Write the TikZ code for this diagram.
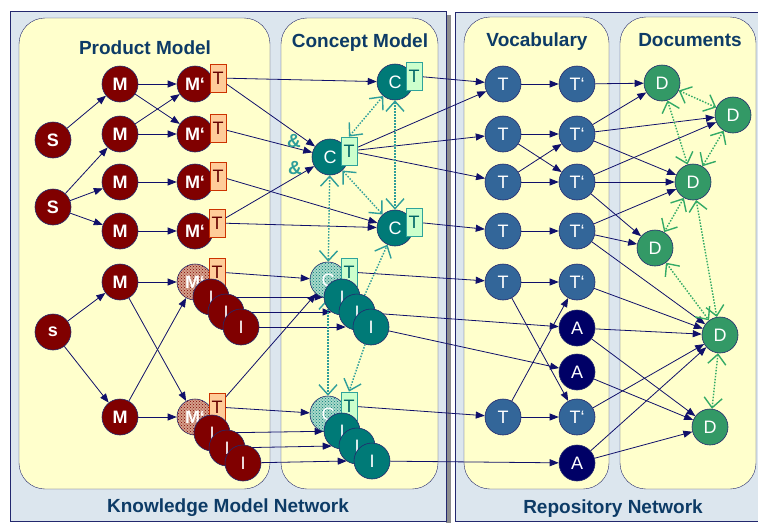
\documentclass[tikz,border=0pt]{standalone}
\usepackage{fontspec}
\setmainfont{Liberation Sans}
\usetikzlibrary{arrows.meta,patterns}

\definecolor{navy}{HTML}{10106A}
\definecolor{rim}{HTML}{23286E}
\definecolor{panel}{HTML}{DCE6EE}
\definecolor{paper}{HTML}{FFFFCC}
\definecolor{headc}{HTML}{0D3B66}
\definecolor{prod}{HTML}{800000}
\definecolor{prodlt}{HTML}{D4A08A}
\definecolor{tprodfill}{HTML}{FFCC99}
\definecolor{tproddraw}{HTML}{CC3300}
\definecolor{tprodtext}{HTML}{660000}
\definecolor{conc}{HTML}{007A77}
\definecolor{conclt}{HTML}{A9D9C9}
\definecolor{tconcfill}{HTML}{CCFFCC}
\definecolor{tconcdraw}{HTML}{2FA39B}
\definecolor{tconctext}{HTML}{006666}
\definecolor{voc}{HTML}{336699}
\definecolor{acc}{HTML}{000066}
\definecolor{doc}{HTML}{339966}
\definecolor{conctie}{HTML}{2E9E9A}
\definecolor{doctie}{HTML}{33AA66}

\newcommand\dlabfont{\fontsize{18}{18}\selectfont}
\newcommand\ttlfont{\fontsize{19}{19}\selectfont\bfseries}

\pgfdeclarelayer{panels}
\pgfdeclarelayer{links}
\pgfsetlayers{panels,links,main}

\tikzset{
  dot/.style = {circle, fill=#1, draw=rim, line width=0.6pt,
                minimum size=36pt, inner sep=0pt, text=white, font=\dlabfont},
  dot/.default = prod,
  pdot/.style = {dot=prod, font=\dlabfont\bfseries},
  mhatch/.style = {pdot, fill=prodlt,
                   postaction={pattern=crosshatch dots, pattern color=prod}},
  chatch/.style = {dot=conclt,
                   postaction={pattern=crosshatch dots, pattern color=conc}},
  tprod/.style = {rectangle, fill=tprodfill, draw=tproddraw, line width=0.8pt,
                  minimum width=16pt, minimum height=28pt, inner sep=0pt,
                  text=tprodtext, font=\fontsize{18}{18}\selectfont},
  tconc/.style = {tprod, fill=tconcfill, draw=tconcdraw, text=tconctext},
  head/.style = {inner sep=0pt, text=headc, font=\ttlfont},
  amp/.style = {inner sep=0pt, text=conctie, font=\fontsize{19}{19}\selectfont\bfseries},
  link/.style = {draw=navy, line width=0.8pt, -{Triangle[length=9pt,width=7pt]}},
  tie/.style = {draw=#1, dash pattern=on 1.5pt off 1.5pt, line width=1.4pt,
                {Straight Barb[length=10pt,width=18pt,line width=1.4pt]}-{Straight Barb[length=10pt,width=18pt,line width=1.4pt]}},
  tieend/.style = {draw=#1, dash pattern=on 1.5pt off 1.5pt, line width=1.4pt,
                -{Straight Barb[length=10pt,width=18pt,line width=1.4pt]}}
}

\begin{document}
\begin{tikzpicture}[x=1pt, y=-1pt]
	\useasboundingbox (0,0) rectangle (758,523);

	% Panels and boxes
	\begin{pgfonlayer}{panels}
	\fill[white] (0,0) rectangle (758,523);
	\fill[black!45] (446,15) rectangle (451,523);
	\draw[rim, fill=panel] (10,11) rectangle (446,521);
	\draw[rim, fill=panel] (758,12) -- (455,12) -- (455,521) -- (758,521);
	\draw[rim, fill=paper, rounded corners=26pt] (19,18) rectangle (270,489);
	\draw[rim, fill=paper, rounded corners=26pt] (281,18) rectangle (438,489);
	\draw[rim, fill=paper, rounded corners=26pt] (464,17) rectangle (609,489);
	\draw[rim, fill=paper, rounded corners=26pt] (620,17) rectangle (756,489);
	\end{pgfonlayer}

	% Titles
	\node[head, anchor=base] (hprod) at (145,54) {Product Model};
	\node[head, anchor=base] (hconc) at (360,47) {Concept Model};
	\node[head, anchor=base] (hvoc)  at (537,46) {Vocabulary};
	\node[head, anchor=base] (hdoc)  at (690,46) {Documents};
	\node[head, anchor=base] (hknow) at (228,512) {Knowledge Model Network};
	\node[head, anchor=base] (hrepo) at (613,513) {Repository Network};

	% Product model
	\node[pdot] (s1) at (53,140) {S};
	\node[pdot] (s2) at (53,207) {S};
	\node[pdot] (s3) at (53,332) {s};
	\node[pdot] (m1) at (120,84)  {M};
	\node[pdot] (m2) at (120,134) {M};
	\node[pdot] (m3) at (120,182) {M};
	\node[pdot] (m4) at (120,231) {M};
	\node[pdot] (m5) at (120,282) {M};
	\node[pdot] (m6) at (120,417) {M};
	\node[pdot] (mp1) at (195,84)  {M‘};
	\node[tprod] (tm1) at ([shift={(23,-6)}]mp1) {T};
	\node[pdot] (mp2) at (195,134) {M‘};
	\node[tprod] (tm2) at ([shift={(23,-6)}]mp2) {T};
	\node[pdot] (mp3) at (195,182) {M‘};
	\node[tprod] (tm3) at ([shift={(23,-6)}]mp3) {T};
	\node[pdot] (mp4) at (195,231) {M‘};
	\node[tprod] (tm4) at ([shift={(22,-8)}]mp4) {T};
	\node[mhatch] (mp5) at (195,282) {M‘};
	\node[tprod] (tm5) at ([shift={(22,-10)}]mp5) {T};
	\node[dot] (ia1) at ([shift={(16,15)}]mp5) {I};
	\node[dot] (ia2) at ([shift={(31,30)}]mp5) {I};
	\node[dot] (ia3) at ([shift={(46,45)}]mp5) {I};
	\node[mhatch] (mp6) at (195,417) {M‘};
	\node[tprod] (tm6) at ([shift={(22,-10)}]mp6) {T};
	\node[dot] (ib1) at ([shift={(17,16)}]mp6) {I};
	\node[dot] (ib2) at ([shift={(32,31)}]mp6) {I};
	\node[dot] (ib3) at ([shift={(48,46)}]mp6) {I};

	% Concept model
	\node[amp] (amp1) at (294,141) {\&};
	\node[amp] (amp2) at (295,168) {\&};
	\node[dot=conc] (c1) at (395,82)  {C};
	\node[tconc] (tc1) at ([shift={(19,-6)}]c1) {T};
	\node[dot=conc] (c2) at (330,157) {C};
	\node[tconc] (tc2) at ([shift={(19,-6)}]c2) {T};
	\node[dot=conc] (c3) at (395,228) {C};
	\node[tconc] (tc3) at ([shift={(19,-6)}]c3) {T};
	\node[chatch] (c4) at (328,280) {C};
	\node[tconc] (tc4) at ([shift={(21,-8)}]c4) {T};
	\node[dot=conc] (ja1) at ([shift={(14,17)}]c4) {I};
	\node[dot=conc] (ja2) at ([shift={(29,32)}]c4) {I};
	\node[dot=conc] (ja3) at ([shift={(43,47)}]c4) {I};
	\node[chatch] (c5) at (328,414) {C};
	\node[tconc] (tc5) at ([shift={(21,-8)}]c5) {T};
	\node[dot=conc] (jb1) at ([shift={(14,17)}]c5) {I};
	\node[dot=conc] (jb2) at ([shift={(29,32)}]c5) {I};
	\node[dot=conc] (jb3) at ([shift={(44,47)}]c5) {I};

	% Vocabulary
	\node[dot=voc] (t1) at (503,84)  {T};
	\node[dot=voc] (t2) at (503,134) {T};
	\node[dot=voc] (t3) at (503,182) {T};
	\node[dot=voc] (t4) at (503,231) {T};
	\node[dot=voc] (t5) at (503,282) {T};
	\node[dot=voc] (t6) at (503,417) {T};
	\node[dot=voc] (tp1) at (577,84)  {T‘};
	\node[dot=voc] (tp2) at (577,134) {T‘};
	\node[dot=voc] (tp3) at (577,182) {T‘};
	\node[dot=voc] (tp4) at (577,231) {T‘};
	\node[dot=voc] (tp5) at (577,282) {T‘};
	\node[dot=voc] (tp6) at (577,417) {T‘};
	\node[dot=acc] (a1) at (577,328) {A};
	\node[dot=acc] (a2) at (577,372) {A};
	\node[dot=acc] (a3) at (577,463) {A};

	% Documents
	\node[dot=doc] (d1) at (662,83)  {D};
	\node[dot=doc] (d2) at (733,115) {D};
	\node[dot=doc] (d3) at (693,182) {D};
	\node[dot=doc] (d4) at (655,248) {D};
	\node[dot=doc] (d5) at (720,335) {D};
	\node[dot=doc] (d6) at (710,427) {D};

	\begin{pgfonlayer}{links}
	% Product model links
	\draw[link] (s1) -- (m1);
	\draw[link] (s2) -- (m2);
	\draw[link] (s2) -- (m3);
	\draw[link] (s2) -- (m4);
	\draw[link] (s3) -- (m5);
	\draw[link] (s3) -- (m6);
	\draw[link] (m1) -- (mp1);
	\draw[link] (m1) -- (mp2);
	\draw[link] (m2) -- (mp2);
	\draw[link] (m2) -- (mp1);
	\draw[link] (m3) -- (mp3);
	\draw[link] (m4) -- (mp4);
	\draw[link] (m5) -- (mp5);
	\draw[link] (m5) -- (mp6);
	\draw[link] (m6) -- (mp6);
	\draw[link] (m6) -- (mp5);

	% Product -> concept
	\draw[link] (tm1) -- (c1);
	\draw[link] (tm1) -- (c2);
	\draw[link] (tm2) -- (c2);
	\draw[link] (tm4) -- (c2);
	\draw[link] (tm3) -- (c3);
	\draw[link] (tm4) -- (c3);
	\draw[link] (tm5) -- (c4);
	\draw[link] (ia1) -- (ja1);
	\draw[link] (ia2) -- ([xshift=-7pt]ja2.west);
	\draw[link] (ia3) -- ([xshift=-7pt]ja3.west);
	\draw[link] (tm6) -- (c4);
	\draw[link] (tm6) -- (c5);
	\draw[link] (ib1) -- (jb1);
	\draw[link] (ib2) -- ([xshift=-7pt]jb2.west);
	\draw[link] (ib3) -- ([xshift=-7pt]jb3.west);

	% Concept -> vocabulary
	\draw[link] (tc1) -- (t1);
	\draw[link] (tc2) -- (t1);
	\draw[link] (tc2) -- (t2);
	\draw[link] (tc2) -- (t3);
	\draw[link] (tc3) -- (t4);
	\draw[link] (tc4) -- (t5);
	\draw[link] (ja2) -- (a1);
	\draw[link] (ja3) -- (a2);
	\draw[link] (tc5) -- (t6);
	\draw[link] (jb3) -- (a3);

	% Vocabulary links
	\draw[link] (t1) -- (tp1);
	\draw[link] (t2) -- (tp2);
	\draw[link] (t2) -- (tp3);
	\draw[link] (t3) -- (tp3);
	\draw[link] (t3) -- (tp2);
	\draw[link] (t4) -- (tp4);
	\draw[link] (t5) -- (tp5);
	\draw[link] (t5) -- (tp6);
	\draw[link] (t6) -- (tp6);
	\draw[link] (t6) -- (tp5);

	% Vocabulary -> documents
	\draw[link] (tp1) -- (d1);
	\draw[link] (tp2) -- (d1);
	\draw[link] (tp2) -- (d2);
	\draw[link] (tp2) -- (d3);
	\draw[link] (tp3) -- (d2);
	\draw[link] (tp3) -- (d3);
	\draw[link] (tp3) -- (d4);
	\draw[link] (tp4) -- (d3);
	\draw[link] (tp4) -- (d4);
	\draw[link] (tp4) -- (d5);
	\draw[link] (tp5) -- (d5);
	\draw[link] (a1) -- (d5);
	\draw[link] (a1) -- (d6);
	\draw[link] (a2) -- (d6);
	\draw[link] (tp6) -- (d5);
	\draw[link] (a3) -- (d5);
	\draw[link] (a3) -- (d6);

	% Concept ties
	\draw[tie=conctie] (tc2.north) -- (c1);
	\draw[tie=conctie] (c1) -- (c3);
	\draw[tie=conctie] (c2) -- (c3);
	\draw[tie=conctie] (c2) -- (c4);
	\draw[tie=conctie] (c4) -- (c5);
	\draw[tieend=conctie] (ja2) -- (c3);
	\draw[tieend=conctie] (ja3) -- (tc5.north);

	% Document ties
	\draw[tie=doctie] (d1) -- (d2);
	\draw[tie=doctie] (d1) -- (d3);
	\draw[tie=doctie] (d2) -- (d3);
	\draw[tie=doctie] (d3) -- (d4);
	\draw[tie=doctie] (d3) -- (d5);
	\draw[tie=doctie] (d4) -- (d5);
	\draw[tie=doctie] (d5) -- (d6);
	\end{pgfonlayer}
\end{tikzpicture}
\end{document}
